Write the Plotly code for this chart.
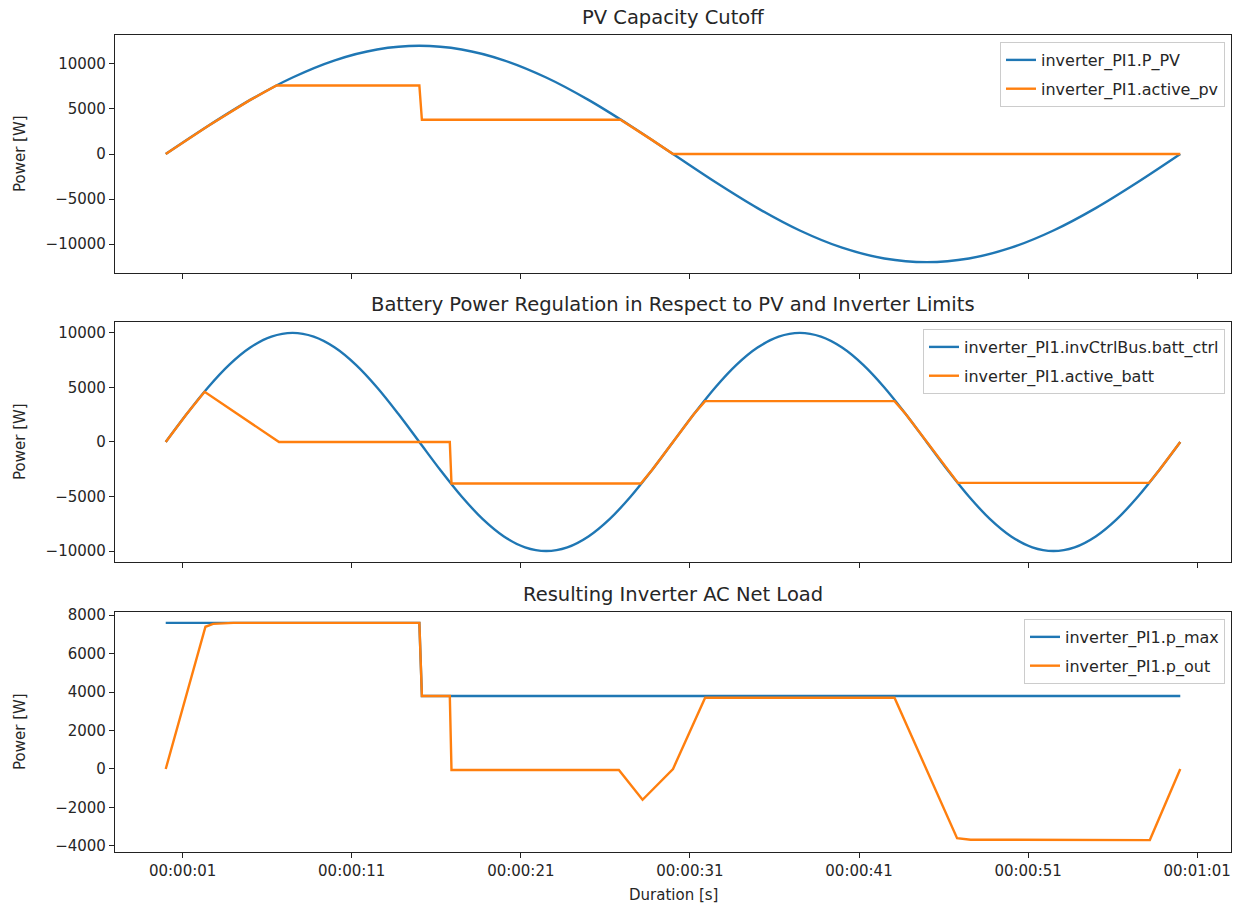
import plotly.graph_objects as go

# ---------------- data ----------------
# Panel 1: PV Capacity Cutoff
t_pv = [0, 2.5, 5, 7.5, 10, 12.5, 15, 17.5, 20, 22.5, 25, 27.5, 30,
        32.5, 35, 37.5, 40, 42.5, 45, 47.5, 50, 52.5, 55, 57.5, 60]
p_pv = [0, 3106, 6000, 8485, 10392, 11591, 12000, 11591, 10392, 8485, 6000, 3106, 0,
        -3106, -6000, -8485, -10392, -11591, -12000, -11591, -10392, -8485, -6000, -3106, 0]
t_active_pv = [0, 2.5, 5, 6.55, 15.0, 15.15, 26.9, 27.5, 28.75, 30, 60]
active_pv = [0, 3106, 6000, 7600, 7600, 3800, 3800, 3106, 1566, 0, 0]

# Panel 2: Battery Power Regulation
t_batt = [0, 1.25, 2.5, 3.75, 5, 6.25, 7.5, 8.75, 10, 11.25, 12.5, 13.75, 15,
          16.25, 17.5, 18.75, 20, 21.25, 22.5, 23.75, 25, 26.25, 27.5, 28.75, 30,
          31.25, 32.5, 33.75, 35, 36.25, 37.5, 38.75, 40, 41.25, 42.5, 43.75, 45,
          46.25, 47.5, 48.75, 50, 51.25, 52.5, 53.75, 55, 56.25, 57.5, 58.75, 60]
batt_ctrl = [0, 2588, 5000, 7071, 8660, 9659, 10000, 9659, 8660, 7071, 5000, 2588, 0,
             -2588, -5000, -7071, -8660, -9659, -10000, -9659, -8660, -7071, -5000, -2588, 0,
             2588, 5000, 7071, 8660, 9659, 10000, 9659, 8660, 7071, 5000, 2588, 0,
             -2588, -5000, -7071, -8660, -9659, -10000, -9659, -8660, -7071, -5000, -2588, 0]
t_active_batt = [0, 1.25, 2.3, 6.7, 16.8, 16.9, 28.1, 28.75, 30, 31.25, 31.9,
                 43.1, 43.75, 45, 46.25, 46.85, 58.15, 58.75, 60]
active_batt = [0, 2588, 4600, 0, 0, -3800, -3800, -2588, 0, 2588, 3750,
               3750, 2588, 0, -2588, -3750, -3750, -2588, 0]

# Panel 3: Resulting Inverter AC Net Load
t_pmax = [0, 15.0, 15.15, 60]
p_max = [7600, 7600, 3800, 3800]
t_pout = [0, 2.35, 2.8, 4.0, 15.0, 15.15, 16.8, 16.9, 26.8, 28.2, 30.0, 31.9,
          43.1, 46.8, 47.6, 58.2, 60]
p_out = [0, 7400, 7550, 7600, 7600, 3800, 3800, -50, -50, -1600, 0, 3710,
         3710, -3600, -3680, -3700, 0]

x_tickvals = [1, 11, 21, 31, 41, 51, 61]
x_ticktext = ["00:00:01", "00:00:11", "00:00:21", "00:00:31", "00:00:41", "00:00:51", "00:01:01"]

y1_ticks = [-10000, -5000, 0, 5000, 10000]
y2_ticks = [-10000, -5000, 0, 5000, 10000]
y3_ticks = [-4000, -2000, 0, 2000, 4000, 6000, 8000]

titles = ["PV Capacity Cutoff",
          "Battery Power Regulation in Respect to PV and Inverter Limits",
          "Resulting Inverter AC Net Load"]

# ---------------- style ----------------
BLUE = "#1f77b4"
ORANGE = "#ff7f0e"
FONT = "DejaVu Sans"
TXT = "#262626"
LW = 2.4

def lab(v):
    return ("\u2212" + str(abs(v))) if v < 0 else str(v)

fig = go.Figure()

traces = [
    (t_pv, p_pv, "inverter_PI1.P_PV", BLUE, "x", "y", "legend", "spline"),
    (t_active_pv, active_pv, "inverter_PI1.active_pv", ORANGE, "x", "y", "legend", "linear"),
    (t_batt, batt_ctrl, "inverter_PI1.invCtrlBus.batt_ctrl", BLUE, "x2", "y2", "legend2", "spline"),
    (t_active_batt, active_batt, "inverter_PI1.active_batt", ORANGE, "x2", "y2", "legend2", "linear"),
    (t_pmax, p_max, "inverter_PI1.p_max", BLUE, "x3", "y3", "legend3", "linear"),
    (t_pout, p_out, "inverter_PI1.p_out", ORANGE, "x3", "y3", "legend3", "linear"),
]
for k, (x, y, name, col, xa, ya, lg, shape) in enumerate(traces):
    fig.add_trace(go.Scatter(x=x, y=y, name=name, mode="lines",
                             line=dict(color=col, width=LW, shape=shape),
                             xaxis=xa, yaxis=ya, legend=lg, legendgroup="g%d" % k))

domains = [[0.7087, 1.0], [0.355, 0.6487], [0.0, 0.2938]]
yranges = [[-13200, 13200], [-11000, 11000], [-4320, 8170]]
yticks = [y1_ticks, y2_ticks, y3_ticks]

common_ax = dict(showgrid=False, zeroline=False, showline=True, linecolor="#222",
                 linewidth=1.2, mirror=True, ticks="outside", ticklen=5, tickwidth=1.2,
                 tickcolor="#222", tickfont=dict(family=FONT, size=15, color=TXT))

layout = dict(
    width=1242, height=907, autosize=False,
    margin=dict(l=115, r=11, t=35, b=55),
    paper_bgcolor="white", plot_bgcolor="white",
    font=dict(family=FONT, size=15, color=TXT),
    showlegend=True,
)

for i in range(3):
    sfx = "" if i == 0 else str(i + 1)
    layout["xaxis" + sfx] = dict(common_ax, domain=[0, 1], range=[-3, 63],
                                 anchor="y" + sfx, tickvals=x_tickvals, ticktext=x_ticktext,
                                 showticklabels=(i == 2),
                                 **({} if i == 0 else {"matches": "x"}))
    layout["yaxis" + sfx] = dict(common_ax, domain=domains[i], range=yranges[i],
                                 anchor="x" + sfx, tickvals=yticks[i],
                                 ticktext=[lab(v) for v in yticks[i]])

legend_tops = [1.0 - 7 / 817, 0.6487 - 7 / 817, 0.2938 - 7 / 817]
for i in range(3):
    key = "legend" if i == 0 else "legend" + str(i + 1)
    layout[key] = dict(x=1 - 6 / 1116, xanchor="right", y=legend_tops[i], yanchor="top",
                       bgcolor="rgba(255,255,255,0.8)", bordercolor="#cccccc", borderwidth=1,
                       font=dict(family=FONT, size=16, color=TXT),
                       tracegroupgap=5, itemwidth=30)

annotations = []
for i in range(3):
    annotations.append(dict(text=titles[i], x=0.5, y=domains[i][1], xref="paper", yref="paper",
                            xanchor="center", yanchor="bottom", yshift=4, showarrow=False,
                            font=dict(family=FONT, size=19.5, color=TXT)))
    annotations.append(dict(text="Power [W]", x=0, y=(domains[i][0] + domains[i][1]) / 2,
                            xref="paper", yref="paper", xanchor="center", yanchor="middle",
                            xshift=-95, textangle=-90, showarrow=False,
                            font=dict(family=FONT, size=15, color=TXT)))
annotations.append(dict(text="Duration [s]", x=0.5, y=0, xref="paper", yref="paper",
                        xanchor="center", yanchor="middle", yshift=-43, showarrow=False,
                        font=dict(family=FONT, size=15, color=TXT)))
layout["annotations"] = annotations

fig.update_layout(**layout)
fig.write_html("out.html", config={"displayModeBar": False},
               post_script="document.body.style.margin='0';document.body.style.overflow='hidden';")
